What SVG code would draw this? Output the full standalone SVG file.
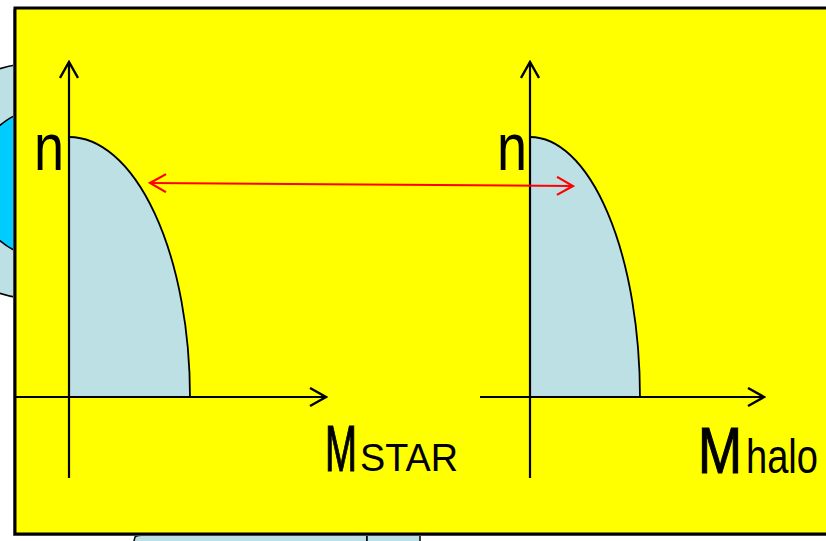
<svg xmlns="http://www.w3.org/2000/svg" width="826" height="541" viewBox="0 0 826 541">
<defs>
<style>
.axis{stroke:#000;stroke-width:2.2;fill:none}
.curve{stroke:#000;stroke-width:1.8;fill:none}
.dist{fill:#BCE0E4;stroke:none}
.lbl{font-family:"Liberation Sans",Arial,sans-serif;fill:#000}
.bg{fill:#BCE0E4;stroke:#000;stroke-width:1.5}
</style>
<marker id="ah" viewBox="0 0 20 20" refX="18" refY="10" markerWidth="20" markerHeight="20" markerUnits="userSpaceOnUse" orient="auto-start-reverse">
<path d="M2,1 L18,10 L2,19" fill="none" stroke="#000" stroke-width="2.4"/>
</marker>
<marker id="ahr" viewBox="0 0 20 20" refX="18" refY="10" markerWidth="20" markerHeight="20" markerUnits="userSpaceOnUse" orient="auto-start-reverse">
<path d="M2,1 L18,10 L2,19" fill="none" stroke="#FF0000" stroke-width="2.2"/>
</marker>
</defs>
<rect width="826" height="541" fill="#fff"/>
<g id="background">
<circle cx="36" cy="181" r="118" class="bg"/>
<circle cx="48" cy="183" r="75" fill="#00CCFF" stroke="#000" stroke-width="1.5"/>
<path d="M133,545 L135,537 Q137,535 145,535 L367,535 L367,545 Z" class="bg"/>
<path d="M367,545 L367,535 L420,535 L420,545 Z" class="bg"/>
</g>
<g id="panel">
<rect x="13" y="9" width="830" height="527" fill="#888"/>
<rect x="15" y="8" width="830" height="526" fill="#FFFF00" stroke="#000" stroke-width="3"/>
</g>
<g id="left-plot">
<path d="M69,137 A121,260 0 0 1 190,397 L69,397 Z" class="dist"/>
<path d="M69,137 A121,260 0 0 1 190,397" class="curve"/>
<text x="34" y="170" class="lbl" font-size="66" textLength="30" lengthAdjust="spacingAndGlyphs">n</text>
<text x="325" y="471" class="lbl" font-size="64" stroke="#000" stroke-width="1.2" textLength="32" lengthAdjust="spacingAndGlyphs">M</text>
<text x="360" y="471" class="lbl" font-size="39" textLength="98" lengthAdjust="spacingAndGlyphs">STAR</text>
</g>
<g id="right-plot">
<path d="M530,137 A110,260 0 0 1 640,397 L530,397 Z" class="dist"/>
<path d="M530,137 A110,260 0 0 1 640,397" class="curve"/>
<text x="497" y="170" class="lbl" font-size="66" textLength="30" lengthAdjust="spacingAndGlyphs">n</text>
<text x="698" y="473" class="lbl" font-size="64" stroke="#000" stroke-width="1.2" textLength="44" lengthAdjust="spacingAndGlyphs">M</text>
<text x="746" y="473" class="lbl" font-size="48" textLength="72" lengthAdjust="spacingAndGlyphs">halo</text>
</g>
<g id="connectors">
<line x1="69" y1="478" x2="69" y2="62" class="axis" marker-end="url(#ah)"/>
<line x1="15" y1="397" x2="326" y2="397" class="axis" marker-end="url(#ah)"/>
<line x1="530" y1="478" x2="530" y2="62" class="axis" marker-end="url(#ah)"/>
<line x1="480" y1="397" x2="764" y2="397" class="axis" marker-end="url(#ah)"/>
<line x1="150" y1="183" x2="573" y2="186" stroke="#FF0000" stroke-width="2" fill="none" marker-start="url(#ahr)" marker-end="url(#ahr)"/>
</g>
</svg>
